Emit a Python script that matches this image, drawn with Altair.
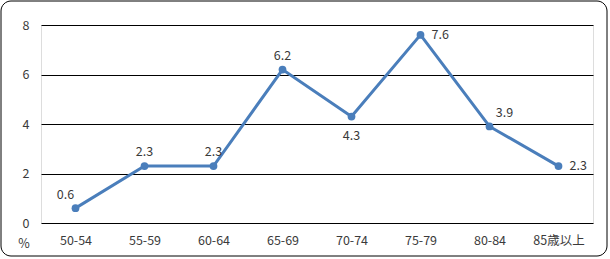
import altair as alt
import pandas as pd

categories = ["50-54", "55-59", "60-64", "65-69", "70-74", "75-79", "80-84", "85歳以上"]
values = [0.6, 2.3, 2.3, 6.2, 4.3, 7.6, 3.9, 2.3]
label_pos = ["aboveleft", "above", "above", "above", "below", "right", "aboveright", "right"]

df = pd.DataFrame({"cat": categories, "val": values, "pos": label_pos})
df["lab"] = df["val"].map(lambda v: f"{v:.1f}")

FONT = "Noto Sans CJK JP"
TXT = "#3a3a3a"
LINE = "#4A7EBB"
FS = 12.5

x = alt.X("cat:N", sort=categories, title=None,
          axis=alt.Axis(labelAngle=0, ticks=False, domain=False, labelPadding=11,
                        labelFont=FONT, labelFontSize=FS, labelColor=TXT, labelFontWeight="normal"))
y = alt.Y("val:Q", scale=alt.Scale(domain=[0, 8]), title=None,
          axis=alt.Axis(values=[0, 2, 4, 6, 8], ticks=False, domain=False, labelPadding=12,
                        grid=True, gridColor="#000000", gridOpacity=1, gridWidth=1,
                        labelFont=FONT, labelFontSize=FS, labelColor=TXT))

base = alt.Chart(df)

line = base.mark_line(color=LINE, strokeWidth=3).encode(x=x, y=y)
pts = base.mark_point(color=LINE, filled=True, opacity=1, size=60).encode(x=x, y=y)

def lbl(pos, dx, dy, align="center", baseline="middle"):
    return base.transform_filter(alt.datum.pos == pos).mark_text(
        dx=dx, dy=dy, align=align, baseline=baseline, font=FONT, fontSize=FS, color=TXT
    ).encode(x=x, y=y, text="lab:N")

t_above = lbl("above", 0, -14)
t_aboveleft = lbl("aboveleft", -10, -13)
t_below = lbl("below", 0, 19)
t_right = lbl("right", 11, 0, align="left")
t_ar = lbl("aboveright", 15, -13)

frame = alt.Chart(pd.DataFrame({"a": [0]})).mark_rect(
    fill=None, stroke="#000000", strokeWidth=1, cornerRadius=10
).encode(x=alt.value(-40), x2=alt.value(566), y=alt.value(-24), y2=alt.value(231))

pct = alt.Chart(pd.DataFrame({"t": ["%"]})).mark_text(
    font=FONT, fontSize=FS, color=TXT
).encode(x=alt.value(-17), y=alt.value(219), text="t:N")

chart = alt.layer(line, pts, t_above, t_aboveleft, t_below, t_right, t_ar, frame, pct).properties(
    width=552, height=198,
    autosize=alt.AutoSizeParams(type="none"),
    padding={"left": 41, "top": 25, "right": 17, "bottom": 36},
).configure_view(stroke="#000000", strokeWidth=1).configure(background="white")

chart.save("out.html", embed_options={"renderer": "svg", "actions": False})
